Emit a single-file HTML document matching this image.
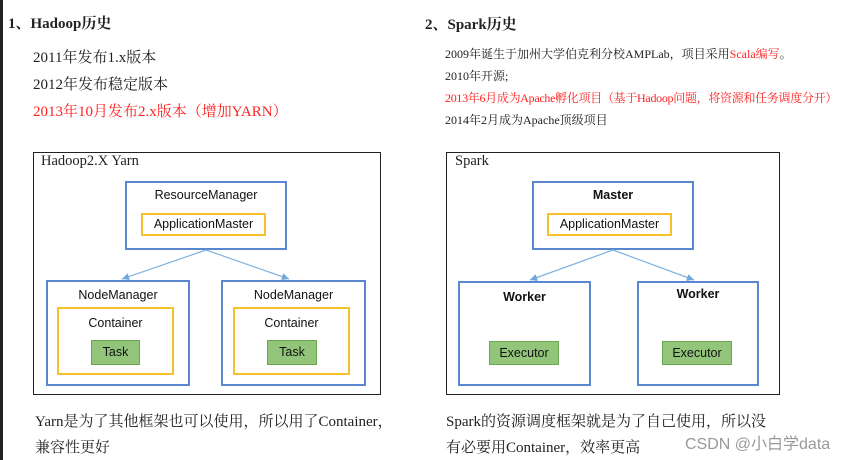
<!DOCTYPE html>
<html><head><meta charset="utf-8"><style>
body{margin:0;width:864px;height:460px;background:#fff;position:relative;overflow:hidden;font-family:"Liberation Serif","Noto Serif CJK SC",serif;color:#222}
.a{position:absolute;white-space:nowrap}
.b{position:absolute;box-sizing:border-box}
.s{font-family:"Liberation Sans","Noto Sans CJK SC",sans-serif;font-size:12.5px;color:#111;text-align:center}
.blue{border:2px solid #5b86d0}
.yel{border:2px solid #f7c12c}
.grn{background:#92c57a;border:1px solid #6aa84f}
.red{color:#f22}
</style></head><body>
<div class="b" style="left:0;top:0;width:3px;height:460px;background:#222"></div>
<div class="a" style="left:8px;top:12px;font-size:15px;font-weight:bold">1、Hadoop历史</div>
<div class="a" style="left:33px;top:46px;font-size:15px">2011年发布1.x版本</div>
<div class="a" style="left:33px;top:73px;font-size:15px">2012年发布稳定版本</div>
<div class="a red" style="left:33px;top:100px;font-size:15px">2013年10月发布2.x版本（增加YARN）</div>

<div class="a" style="left:425px;top:13px;font-size:15px;font-weight:bold">2、Spark历史</div>
<div class="a" style="left:445px;top:45px;font-size:12px">2009年诞生于加州大学伯克利分校AMPLab，项目采用<span class="red">Scala编写</span>。</div>
<div class="a" style="left:445px;top:67px;font-size:12px">2010年开源;</div>
<div class="a red" style="left:445px;top:89px;font-size:12px;letter-spacing:-0.3px">2013年6月成为Apache孵化项目（基于Hadoop问题，将资源和任务调度分开）</div>
<div class="a" style="left:445px;top:111px;font-size:12px">2014年2月成为Apache顶级项目</div>

<!-- Hadoop box -->
<div class="b" style="left:33px;top:152px;width:348px;height:243px;border:1.5px solid #222"></div>
<div class="a" style="left:41px;top:153px;font-size:14.5px">Hadoop2.X Yarn</div>
<div class="b blue s" style="left:125px;top:181px;width:162px;height:69px;padding-top:5px">ResourceManager</div>
<div class="b yel s" style="left:141px;top:213px;width:125px;height:23px;line-height:19px">ApplicationMaster</div>
<div class="b blue s" style="left:46px;top:280px;width:144px;height:106px;padding-top:6px">NodeManager</div>
<div class="b blue s" style="left:221px;top:280px;width:145px;height:106px;padding-top:6px">NodeManager</div>
<div class="b yel s" style="left:57px;top:307px;width:117px;height:68px;padding-top:7px">Container</div>
<div class="b yel s" style="left:233px;top:307px;width:117px;height:68px;padding-top:7px">Container</div>
<div class="b grn s" style="left:91px;top:340px;width:49px;height:25px;line-height:23px">Task</div>
<div class="b grn s" style="left:267px;top:340px;width:50px;height:25px;line-height:23px">Task</div>

<!-- Spark box -->
<div class="b" style="left:446px;top:152px;width:334px;height:243px;border:1.5px solid #222"></div>
<div class="a" style="left:455px;top:153px;font-size:14.5px">Spark</div>
<div class="b blue s" style="left:532px;top:181px;width:162px;height:69px;padding-top:5px;font-weight:bold">Master</div>
<div class="b yel s" style="left:547px;top:213px;width:125px;height:23px;line-height:19px">ApplicationMaster</div>
<div class="b blue s" style="left:458px;top:281px;width:133px;height:105px;padding-top:7px;font-weight:bold">Worker</div>
<div class="b blue s" style="left:637px;top:281px;width:122px;height:105px;padding-top:4px;font-weight:bold">Worker</div>
<div class="b grn s" style="left:489px;top:341px;width:70px;height:24px;line-height:22px">Executor</div>
<div class="b grn s" style="left:662px;top:341px;width:70px;height:24px;line-height:22px">Executor</div>

<svg class="b" style="left:0;top:0" width="864" height="460">
<defs><marker id="m" markerWidth="8" markerHeight="8" refX="6" refY="3" orient="auto"><path d="M0,0L6,3L0,6z" fill="#6fa8dc"/></marker></defs>
<g stroke="#7fb2e0" stroke-width="1.2" marker-end="url(#m)">
<line x1="206" y1="250" x2="122" y2="279"/>
<line x1="206" y1="250" x2="289" y2="279"/>
<line x1="613" y1="250" x2="530" y2="280"/>
<line x1="613" y1="250" x2="694" y2="280"/>
</g></svg>

<div class="a" style="left:35px;top:410px;font-size:15px">Yarn是为了其他框架也可以使用，所以用了Container，</div>
<div class="a" style="left:35px;top:436px;font-size:15px">兼容性更好</div>
<div class="a" style="left:446px;top:410px;font-size:15px">Spark的资源调度框架就是为了自己使用，所以没</div>
<div class="a" style="left:446px;top:436px;font-size:15px">有必要用Container，效率更高</div>
<div class="a" style="left:685px;top:430px;font-size:16px;color:#999;font-family:'Liberation Sans','Noto Sans CJK SC',sans-serif">CSDN @小白学data</div>
</body></html>
